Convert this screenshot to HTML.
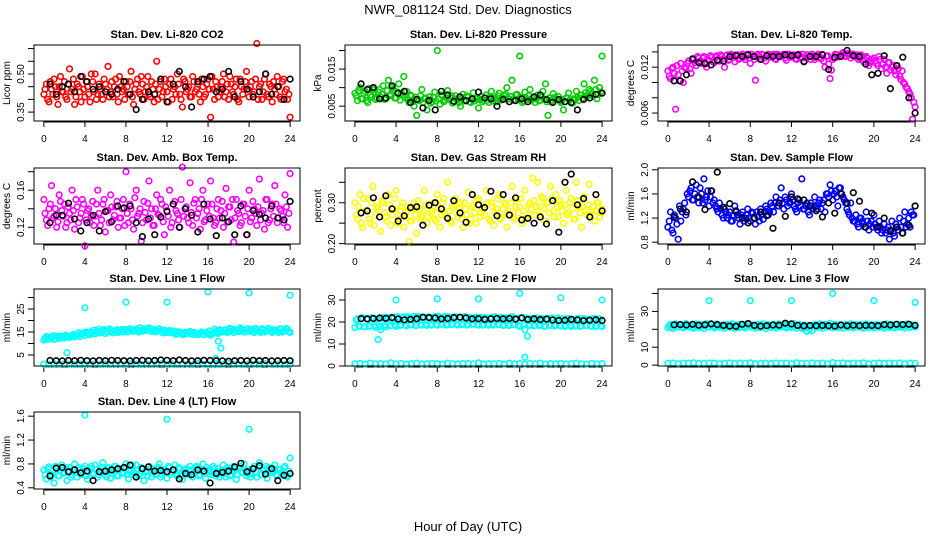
<!DOCTYPE html>
<html><head><meta charset="utf-8"><style>
html,body{margin:0;padding:0;background:#fff;}
svg{display:block;font-family:"Liberation Sans",Arial,sans-serif;}
</style></head><body>
<svg id="chart" width="936" height="540" viewBox="0 0 936 540" xmlns="http://www.w3.org/2000/svg">
<rect x="0" y="0" width="936" height="540" fill="#fff"/>
<text x="468" y="14" font-size="13" text-anchor="middle">NWR_081124  Std. Dev. Diagnostics</text>
<text x="468" y="531" font-size="13" text-anchor="middle">Hour of Day (UTC)</text>
</svg>
<script>
const hoursQ = [0,0.25,0.5,0.75,1,1.25,1.5,1.75,2,2.25,2.5,2.75,3,3.25,3.5,3.75,4,4.25,4.5,4.75,5,5.25,5.5,5.75,6,6.25,6.5,6.75,7,7.25,7.5,7.75,8,8.25,8.5,8.75,9,9.25,9.5,9.75,10,10.25,10.5,10.75,11,11.25,11.5,11.75,12,12.25,12.5,12.75,13,13.25,13.5,13.75,14,14.25,14.5,14.75,15,15.25,15.5,15.75,16,16.25,16.5,16.75,17,17.25,17.5,17.75,18,18.25,18.5,18.75,19,19.25,19.5,19.75,20,20.25,20.5,20.75,21,21.25,21.5,21.75,22,22.25,22.5,22.75,23,23.25,23.5,23.75,24];
const hoursQb = [0.125,0.375,0.625,0.875,1.125,1.375,1.625,1.875,2.125,2.375,2.625,2.875,3.125,3.375,3.625,3.875,4.125,4.375,4.625,4.875,5.125,5.375,5.625,5.875,6.125,6.375,6.625,6.875,7.125,7.375,7.625,7.875,8.125,8.375,8.625,8.875,9.125,9.375,9.625,9.875,10.125,10.375,10.625,10.875,11.125,11.375,11.625,11.875,12.125,12.375,12.625,12.875,13.125,13.375,13.625,13.875,14.125,14.375,14.625,14.875,15.125,15.375,15.625,15.875,16.125,16.375,16.625,16.875,17.125,17.375,17.625,17.875,18.125,18.375,18.625,18.875,19.125,19.375,19.625,19.875,20.125,20.375,20.625,20.875,21.125,21.375,21.625,21.875,22.125,22.375,22.625,22.875,23.125,23.375,23.625,23.875];
const hoursHalf = [0,0.5,1,1.5,2,2.5,3,3.5,4,4.5,5,5.5,6,6.5,7,7.5,8,8.5,9,9.5,10,10.5,11,11.5,12,12.5,13,13.5,14,14.5,15,15.5,16,16.5,17,17.5,18,18.5,19,19.5,20,20.5,21,21.5,22,22.5,23,23.5,24];
const hoursBlack = [0.6,1.2,1.8,2.4,3,3.6,4.2,4.8,5.4,6,6.6,7.2,7.8,8.4,9,9.6,10.2,10.8,11.4,12,12.6,13.2,13.8,14.4,15,15.6,16.2,16.8,17.4,18,18.6,19.2,19.8,20.4,21,21.6,22.2,22.8,23.4,24];
const xTicks = [0,4,8,12,16,20,24];

const co2Vals = [0.42,0.46,0.39,0.44,0.48,0.41,0.45,0.43,0.47,0.40,0.52,0.44,0.38,0.46,0.43,0.49,0.41,0.45,0.39,0.47,0.50,0.42,0.44,0.40,0.46,0.53,0.43,0.41,0.48,0.39,0.45,0.44,0.47,0.42,0.51,0.38,0.46,0.43,0.49,0.40,0.45,0.42,0.47,0.39,0.55,0.44,0.41,0.48,0.43,0.46,0.40,0.45,0.50,0.42,0.37,0.47,0.44,0.41,0.49,0.43,0.46,0.39,0.45,0.42,0.48,0.33,0.44,0.47,0.41,0.45,0.50,0.43,0.40,0.46,0.42,0.48,0.39,0.45,0.44,0.51,0.41,0.47,0.43,0.62,0.45,0.40,0.48,0.42,0.46,0.39,0.44,0.49,0.41,0.47,0.43,0.40,0.33];
const co2ValsB = [0.44,0.40,0.47,0.42,0.45,0.38,0.49,0.43,0.41,0.46,0.43,0.48,0.41,0.45,0.39,0.44,0.47,0.42,0.50,0.43,0.40,0.46,0.42,0.48,0.44,0.41,0.47,0.45,0.42,0.49,0.43,0.40,0.45,0.47,0.41,0.44,0.48,0.42,0.46,0.43,0.49,0.41,0.44,0.46,0.40,0.47,0.43,0.45,0.39,0.48,0.44,0.42,0.46,0.40,0.48,0.43,0.45,0.41,0.47,0.44,0.42,0.48,0.41,0.46,0.44,0.49,0.40,0.45,0.43,0.47,0.41,0.46,0.49,0.43,0.45,0.40,0.48,0.42,0.47,0.44,0.45,0.42,0.48,0.40,0.46,0.43,0.50,0.41,0.45,0.47,0.42,0.45,0.40,0.48,0.44,0.42];
const co2Black = [0.46,0.42,0.45,0.46,0.43,0.49,0.47,0.44,0.45,0.43,0.42,0.44,0.47,0.42,0.36,0.40,0.43,0.42,0.48,0.39,0.46,0.51,0.45,0.37,0.47,0.48,0.49,0.43,0.44,0.51,0.41,0.47,0.44,0.41,0.43,0.50,0.42,0.45,0.40,0.48];

const presVals = [0.0085,0.0065,0.0100,0.0070,0.0090,0.0060,0.0080,0.0095,0.0068,0.0088,0.0075,0.0105,0.0070,0.0120,0.0082,0.0095,0.0072,0.0110,0.0085,0.0130,0.0090,0.0060,0.0078,0.0050,0.0025,0.0065,0.0095,0.0070,0.0040,0.0075,0.0062,0.0088,0.0200,0.0055,0.0080,0.0066,0.0092,0.0072,0.0058,0.0078,0.0068,0.0050,0.0082,0.0064,0.0074,0.0060,0.0086,0.0070,0.0045,0.0076,0.0066,0.0080,0.0060,0.0090,0.0072,0.0062,0.0085,0.0068,0.0078,0.0100,0.0070,0.0120,0.0065,0.0082,0.0185,0.0060,0.0088,0.0068,0.0095,0.0072,0.0060,0.0080,0.0066,0.0090,0.0110,0.0025,0.0062,0.0084,0.0068,0.0076,0.0060,0.0040,0.0072,0.0085,0.0060,0.0070,0.0090,0.0065,0.0080,0.0110,0.0075,0.0095,0.0085,0.0120,0.0070,0.0100,0.0185];
const presValsB = [0.0078,0.0092,0.0070,0.0085,0.0065,0.0098,0.0075,0.0088,0.0072,0.0095,0.0082,0.0068,0.0092,0.0078,0.0100,0.0072,0.0088,0.0066,0.0080,0.0074,0.0068,0.0080,0.0062,0.0074,0.0068,0.0078,0.0060,0.0072,0.0066,0.0058,0.0074,0.0064,0.0070,0.0080,0.0062,0.0072,0.0068,0.0078,0.0064,0.0070,0.0060,0.0072,0.0066,0.0078,0.0062,0.0070,0.0064,0.0074,0.0068,0.0062,0.0072,0.0066,0.0076,0.0064,0.0070,0.0078,0.0066,0.0072,0.0082,0.0070,0.0076,0.0066,0.0080,0.0070,0.0074,0.0064,0.0072,0.0078,0.0066,0.0074,0.0070,0.0064,0.0076,0.0068,0.0062,0.0072,0.0066,0.0074,0.0070,0.0064,0.0068,0.0062,0.0072,0.0066,0.0058,0.0068,0.0074,0.0080,0.0072,0.0086,0.0082,0.0090,0.0078,0.0095,0.0082,0.0088];
const presBlack = [0.0110,0.0095,0.0100,0.0070,0.0072,0.0105,0.0085,0.0090,0.0060,0.0068,0.0045,0.0065,0.0040,0.0090,0.0080,0.0063,0.0075,0.0065,0.0070,0.0088,0.0072,0.0070,0.0050,0.0068,0.0062,0.0065,0.0070,0.0062,0.0075,0.0080,0.0068,0.0060,0.0068,0.0062,0.0060,0.0040,0.0068,0.0072,0.0082,0.0085];

const tempVals = [0.0115,0.0105,0.0120,0.0065,0.0110,0.0125,0.0100,0.0118,0.0128,0.0112,0.0130,0.0122,0.0132,0.0125,0.0134,0.0120,0.0128,0.0133,0.0126,0.0135,0.0128,0.0134,0.0120,0.0136,0.0130,0.0135,0.0127,0.0136,0.0132,0.0137,0.0130,0.0137,0.0125,0.0134,0.0103,0.0137,0.0131,0.0136,0.0128,0.0137,0.0133,0.0137,0.0130,0.0136,0.0134,0.0137,0.0129,0.0137,0.0133,0.0136,0.0130,0.0137,0.0133,0.0128,0.0136,0.0134,0.0137,0.0130,0.0136,0.0133,0.0137,0.0120,0.0135,0.0105,0.0130,0.0137,0.0133,0.0136,0.0139,0.0134,0.0138,0.0132,0.0137,0.0135,0.0130,0.0136,0.0127,0.0134,0.0122,0.0128,0.0132,0.0125,0.0134,0.0118,0.0130,0.0112,0.0126,0.0120,0.0115,0.0122,0.0108,0.0115,0.0098,0.0092,0.0085,0.0052,0.0068];
const tempValsB = [0.0108,0.0118,0.0112,0.0122,0.0102,0.0115,0.0120,0.0125,0.0118,0.0130,0.0126,0.0134,0.0128,0.0132,0.0124,0.0130,0.0135,0.0127,0.0133,0.0130,0.0136,0.0131,0.0135,0.0129,0.0137,0.0133,0.0136,0.0130,0.0135,0.0133,0.0136,0.0132,0.0137,0.0130,0.0136,0.0134,0.0137,0.0132,0.0135,0.0133,0.0136,0.0131,0.0137,0.0134,0.0136,0.0132,0.0137,0.0134,0.0136,0.0131,0.0135,0.0133,0.0137,0.0132,0.0136,0.0130,0.0135,0.0133,0.0137,0.0131,0.0128,0.0134,0.0124,0.0116,0.0132,0.0136,0.0134,0.0137,0.0135,0.0138,0.0136,0.0137,0.0134,0.0136,0.0132,0.0134,0.0130,0.0132,0.0126,0.0130,0.0128,0.0122,0.0130,0.0124,0.0120,0.0126,0.0116,0.0122,0.0110,0.0118,0.0104,0.0100,0.0094,0.0088,0.0080,0.0074];
const tempBlack = [0.0102,0.0102,0.0110,0.0131,0.0126,0.0125,0.0123,0.0129,0.0128,0.0134,0.0135,0.0134,0.0136,0.0134,0.0130,0.0135,0.0134,0.0134,0.0136,0.0135,0.0136,0.0127,0.0134,0.0134,0.0136,0.0117,0.0133,0.0134,0.0142,0.0135,0.0134,0.0124,0.0110,0.0112,0.0135,0.0092,0.0122,0.0133,0.0080,0.0060];

const ambVals = [0.150,0.128,0.140,0.165,0.132,0.120,0.155,0.138,0.145,0.125,0.135,0.160,0.118,0.142,0.130,0.150,0.100,0.138,0.125,0.148,0.132,0.160,0.122,0.145,0.115,0.138,0.155,0.128,0.142,0.120,0.130,0.150,0.180,0.125,0.140,0.118,0.160,0.135,0.105,0.148,0.128,0.170,0.140,0.122,0.155,0.133,0.145,0.112,0.138,0.160,0.125,0.148,0.135,0.120,0.185,0.140,0.130,0.168,0.122,0.150,0.135,0.118,0.160,0.128,0.145,0.170,0.130,0.125,0.150,0.138,0.120,0.162,0.142,0.128,0.104,0.150,0.135,0.125,0.145,0.112,0.160,0.130,0.140,0.122,0.172,0.135,0.118,0.150,0.128,0.145,0.165,0.125,0.140,0.132,0.155,0.120,0.178];
const ambValsB = [0.135,0.122,0.145,0.130,0.140,0.126,0.148,0.132,0.120,0.142,0.128,0.138,0.150,0.125,0.135,0.145,0.128,0.140,0.132,0.122,0.145,0.135,0.128,0.150,0.138,0.125,0.142,0.133,0.148,0.130,0.140,0.122,0.135,0.145,0.128,0.152,0.132,0.140,0.125,0.136,0.146,0.130,0.122,0.140,0.134,0.150,0.126,0.142,0.132,0.120,0.145,0.138,0.128,0.150,0.132,0.142,0.125,0.136,0.146,0.130,0.140,0.150,0.126,0.138,0.132,0.145,0.122,0.140,0.130,0.148,0.135,0.126,0.142,0.150,0.130,0.138,0.122,0.145,0.132,0.140,0.126,0.148,0.135,0.142,0.128,0.138,0.150,0.125,0.140,0.132,0.145,0.130,0.138,0.125,0.142,0.135];
const ambBlack = [0.125,0.133,0.133,0.146,0.129,0.116,0.125,0.133,0.116,0.137,0.126,0.143,0.141,0.143,0.125,0.110,0.129,0.112,0.131,0.137,0.145,0.120,0.140,0.133,0.115,0.145,0.129,0.111,0.130,0.126,0.112,0.143,0.112,0.138,0.134,0.130,0.143,0.130,0.128,0.148];

const rhVals = [0.300,0.260,0.320,0.240,0.280,0.310,0.250,0.340,0.270,0.290,0.230,0.300,0.265,0.320,0.245,0.285,0.330,0.260,0.290,0.240,0.275,0.205,0.255,0.300,0.225,0.285,0.265,0.330,0.250,0.295,0.280,0.260,0.320,0.240,0.300,0.275,0.350,0.255,0.290,0.310,0.265,0.300,0.240,0.285,0.325,0.260,0.295,0.250,0.310,0.275,0.290,0.330,0.260,0.300,0.245,0.285,0.320,0.265,0.300,0.240,0.280,0.340,0.260,0.310,0.290,0.250,0.330,0.270,0.300,0.360,0.270,0.350,0.290,0.310,0.255,0.300,0.340,0.280,0.320,0.265,0.295,0.250,0.330,0.275,0.310,0.260,0.350,0.290,0.240,0.315,0.270,0.345,0.280,0.255,0.300,0.265,0.285];
const rhValsB = [0.270,0.290,0.250,0.310,0.280,0.260,0.300,0.245,0.285,0.265,0.305,0.275,0.255,0.295,0.270,0.310,0.250,0.280,0.300,0.265,0.290,0.255,0.285,0.270,0.305,0.260,0.280,0.295,0.265,0.275,0.300,0.255,0.285,0.270,0.310,0.265,0.280,0.250,0.295,0.275,0.285,0.260,0.300,0.270,0.250,0.290,0.275,0.305,0.265,0.285,0.270,0.300,0.255,0.290,0.275,0.310,0.260,0.285,0.295,0.270,0.300,0.265,0.290,0.275,0.310,0.280,0.260,0.295,0.285,0.305,0.290,0.270,0.315,0.285,0.300,0.275,0.310,0.265,0.290,0.305,0.280,0.295,0.270,0.300,0.285,0.260,0.305,0.275,0.290,0.280,0.295,0.270,0.290,0.280,0.300,0.275];
const rhBlack = [0.275,0.280,0.312,0.265,0.317,0.285,0.255,0.268,0.288,0.290,0.245,0.294,0.300,0.285,0.262,0.305,0.275,0.252,0.320,0.295,0.288,0.328,0.268,0.320,0.270,0.312,0.258,0.262,0.250,0.265,0.248,0.305,0.228,0.350,0.370,0.295,0.310,0.265,0.320,0.280];

const flowVals = [1.05,1.30,0.95,1.20,0.85,1.15,1.35,1.25,1.55,1.70,1.50,1.75,1.45,1.60,1.85,1.55,1.40,1.65,1.50,1.35,1.45,1.25,1.35,1.20,1.30,1.15,1.40,1.25,1.10,1.30,1.20,1.35,1.15,1.28,1.10,1.22,1.35,1.18,1.40,1.25,1.45,1.30,1.55,1.40,1.70,1.35,1.50,1.45,1.60,1.40,1.30,1.50,1.85,1.35,1.45,1.25,1.40,1.55,1.35,1.50,1.45,1.30,1.60,1.75,1.50,1.65,1.40,1.70,1.55,1.45,1.30,1.45,1.15,1.25,1.05,1.20,1.10,1.30,1.00,1.15,1.25,1.05,1.15,0.95,1.10,1.00,0.85,1.15,0.90,1.05,1.20,0.95,1.30,1.10,1.05,1.25,1.40];
const flowValsB = [1.15,1.00,1.25,1.10,1.40,1.30,1.45,1.60,1.65,1.50,1.60,1.55,1.70,1.45,1.50,1.65,1.55,1.45,1.40,1.30,1.35,1.20,1.30,1.25,1.15,1.25,1.30,1.20,1.25,1.15,1.25,1.20,1.30,1.20,1.30,1.15,1.25,1.30,1.35,1.30,1.40,1.45,1.40,1.50,1.45,1.55,1.40,1.45,1.50,1.35,1.45,1.40,1.35,1.40,1.30,1.45,1.35,1.40,1.45,1.35,1.50,1.60,1.55,1.65,1.60,1.55,1.70,1.60,1.50,1.35,1.25,1.20,1.15,1.10,1.20,1.15,1.05,1.15,1.10,1.05,1.10,1.00,1.05,1.00,0.95,1.05,1.00,0.95,1.10,1.00,1.05,1.15,1.05,1.20,1.30,1.25];
const flowBlack = [1.22,1.35,1.30,1.80,1.55,1.34,1.65,1.96,1.38,1.44,1.32,1.20,1.12,1.20,1.30,1.24,1.03,1.45,1.23,1.55,1.52,1.50,1.40,1.32,1.22,1.45,1.28,1.60,1.45,1.62,1.48,1.05,1.28,1.05,1.20,0.98,1.05,0.95,1.08,1.40];

const line1Vals = [11.5,13.0,12.0,12.5,11.8,13.2,12.2,12.8,12.4,13.0,12.6,13.4,12.8,13.6,13.0,14.2,13.4,14.4,13.8,14.8,14.2,15.2,14.6,15.6,14.4,15.0,15.8,14.6,15.4,14.8,15.6,15.0,16.0,15.2,15.8,15.4,16.2,15.0,15.8,16.4,15.6,16.8,15.2,16.0,15.4,16.4,15.0,15.8,14.8,15.6,14.6,15.4,14.2,15.0,14.0,14.8,14.4,15.2,14.0,14.6,13.8,14.6,14.0,14.8,14.2,13.6,14.6,15.2,14.4,15.6,15.0,16.0,15.4,16.4,14.8,15.8,15.2,16.2,15.0,16.0,15.4,16.2,14.8,15.8,15.2,16.4,15.0,15.6,16.0,14.8,15.8,15.2,16.4,15.0,15.6,16.2,14.8];
const line1ValsB = [12.2,11.8,12.6,13.4,12.0,12.8,13.2,12.6,13.6,12.8,13.2,14.0,13.6,14.6,14.0,14.6,15.0,14.4,15.2,15.8,15.0,16.2,15.4,16.0,15.2,16.4,15.6,15.4,16.0,15.2,16.2,15.6,15.0,16.4,15.4,16.0,15.6,16.8,15.4,16.2,15.8,16.4,15.6,15.0,16.2,15.4,14.6,15.4,14.8,15.6,14.6,14.0,15.0,14.4,13.8,14.6,15.0,14.2,14.8,14.0,14.4,15.0,13.8,14.6,15.4,14.0,16.2,14.8,16.0,15.2,15.8,14.8,16.6,15.6,16.0,15.4,16.8,15.8,15.0,16.4,15.4,15.0,16.6,15.6,14.8,16.0,15.4,16.6,15.2,16.0,15.4,14.8,16.2,15.6,16.6,15.2];
const line1Low = [1.0,0.8,1.1,0.9,1.2,1.0,0.8,1.1,0.9,1.0,1.2,0.9,1.0,0.8,1.1,1.0,0.9,1.2,1.0,0.8,1.1,0.9,1.0,1.2,0.9,1.0,0.8,1.1,1.0,0.9,1.2,1.0,0.8,1.1,0.9,1.0,1.2,0.9,1.0,0.8,1.1,1.0,0.9,1.2,1.0,0.8,1.1,0.9,1.0];
const line1OutHours = [2.25,4,8,12,16,16.75,17,17.25,20,24];
const line1OutVals = [6,25.5,28,28,32.5,3.5,11,8,32,31];
const line1Black = [2.6,2.5,2.4,2.6,2.5,2.7,2.5,2.4,2.6,2.5,2.7,2.6,2.5,2.4,2.6,2.7,2.5,2.6,2.8,2.7,2.5,2.8,2.6,2.4,2.5,2.7,2.6,2.5,2.4,2.3,2.5,2.6,2.4,2.7,2.5,2.6,2.4,2.5,2.6,2.5];

const line2Vals = [17.5,21.5,18.0,22.0,17.8,21.2,18.2,21.8,17.6,21.4,18.0,22.0,17.8,21.6,18.4,22.2,18.0,21.8,18.6,22.4,18.2,21.8,18.8,22.6,18.4,22.0,18.6,22.2,18.4,21.8,18.8,22.4,18.6,22.0,19.0,22.6,18.8,22.2,19.0,22.4,18.6,22.0,19.0,22.4,18.8,21.8,19.0,22.2,18.6,22.0,18.8,21.8,18.6,22.2,19.0,21.6,18.8,22.0,18.6,21.8,18.4,22.4,18.8,21.6,18.0,22.0,16.5,20.8,18.6,21.6,18.4,21.8,18.6,21.4,18.2,21.6,18.4,21.2,18.6,21.8,18.2,21.4,18.4,21.6,18.0,21.2,18.4,21.6,18.2,21.4,18.4,21.2,18.0,21.6,18.2,21.4,18.0];
const line2ValsB = [21.0,18.2,21.8,17.8,21.6,18.0,22.0,18.4,21.2,17.8,21.8,18.6,22.2,18.2,21.6,18.8,22.4,18.4,22.0,18.6,22.4,18.8,21.8,18.4,22.6,18.8,22.0,19.0,22.4,18.6,22.2,18.8,22.6,19.0,22.0,18.6,22.4,18.8,22.0,19.0,22.2,18.8,22.4,18.6,22.0,19.0,21.8,18.8,22.2,18.6,22.0,19.0,21.8,18.6,22.4,18.8,22.0,18.4,21.8,18.6,22.2,18.8,21.6,18.4,22.0,18.6,21.8,18.4,21.6,18.2,21.8,18.4,21.6,18.0,21.4,18.4,21.8,18.2,21.6,18.4,21.4,18.0,21.6,18.4,21.2,18.2,21.6,18.0,21.4,18.4,21.2,18.2,21.6,18.0,21.4,18.2];
const line2Low = [1.0,1.2,0.8,1.3,1.0,1.1,0.9,1.4,1.0,1.2,0.8,1.1,1.3,0.9,1.0,1.2,1.1,0.8,1.3,1.0,0.9,1.2,1.1,1.0,1.4,0.9,1.1,1.0,1.2,0.8,1.3,1.0,1.1,0.9,1.2,1.0,1.3,0.8,1.1,1.0,1.2,0.9,1.1,1.3,1.0,0.8,1.2,1.0,1.1];
const line2OutHours = [2.25,2.5,4,8,12,16,16.5,16.75,20,24];
const line2OutVals = [12,16.5,30,30.5,30.5,33,4,13.5,31,30];
const line2Black = [21.5,21.4,21.6,21.8,21.7,22.0,21.3,21.0,21.2,21.5,22.2,22.0,21.8,21.4,21.6,22.0,22.2,21.8,21.4,21.5,21.2,21.4,21.6,21.4,21.6,21.3,21.8,21.2,21.4,21.1,21.3,20.9,20.7,20.8,21.2,20.9,20.6,20.8,21.0,20.7];

const line3Vals = [21.0,22.8,20.4,23.0,21.2,22.6,20.8,23.2,21.4,22.4,20.6,23.0,21.0,22.8,20.4,23.2,21.2,22.6,20.8,23.0,21.0,22.4,20.6,22.8,21.2,23.0,20.4,22.6,21.0,22.8,20.8,23.2,21.2,22.4,20.6,22.8,21.0,23.0,20.4,22.6,21.0,22.8,20.6,23.0,21.2,22.4,20.8,22.6,21.0,23.2,20.6,22.8,21.0,22.4,18.8,20.0,19.2,22.8,21.0,23.0,20.6,22.6,21.2,23.4,20.8,22.8,21.0,22.4,20.6,22.8,21.0,23.0,20.8,22.6,21.2,22.8,20.6,23.0,21.0,22.6,20.8,22.8,21.2,22.4,20.6,23.0,21.0,22.6,20.8,22.8,21.2,22.6,20.6,23.0,21.0,22.4,21.2];
const line3ValsB = [22.0,21.4,22.2,21.6,22.4,21.2,22.0,21.8,22.2,21.4,22.4,21.6,22.0,21.8,22.2,21.4,22.6,21.6,22.0,21.8,22.2,21.4,22.4,21.6,22.0,21.8,22.2,21.4,22.6,21.6,22.0,21.8,22.2,21.4,22.4,21.6,22.0,21.8,22.2,21.4,22.4,21.6,22.0,21.8,22.2,21.4,22.6,21.6,22.0,21.8,22.2,21.0,20.4,21.6,22.0,21.8,22.2,21.4,22.6,21.6,22.0,21.8,22.2,21.4,22.4,21.6,22.0,21.8,22.2,21.4,22.4,21.6,22.0,21.8,22.2,21.4,22.6,21.6,22.0,21.8,22.2,21.4,22.4,21.6,22.0,21.8,22.2,21.4,22.6,21.6,22.0,21.8,22.2,21.4,22.4,21.6];
const line3Low = [1.0,1.2,0.8,1.1,1.0,1.3,0.9,1.0,1.2,1.1,0.8,1.0,1.2,0.9,1.1,1.0,1.3,0.8,1.0,1.1,0.9,1.2,1.0,1.1,0.8,1.3,1.0,0.9,1.2,1.0,1.1,0.8,1.4,1.0,1.2,0.9,1.1,1.0,1.3,0.8,1.0,1.2,0.9,1.1,1.0,1.2,0.8,1.1,1.0];
const line3OutHours = [4,8,12,16,20,24];
const line3OutVals = [36,36,36,40,36,35];
const line3Black = [22.5,22.6,22.4,22.8,22.3,22.5,23.0,22.6,22.2,21.8,21.6,22.8,23.2,22.2,21.8,22.0,22.4,22.3,23.4,23.0,22.2,21.9,22.1,22.0,22.2,22.0,21.8,22.4,22.0,22.3,22.0,22.2,22.1,22.0,22.6,22.4,22.8,22.6,22.8,22.2];

const line4Vals = [0.70,0.55,0.75,0.62,0.48,0.72,0.60,0.78,0.66,0.52,0.74,0.62,0.80,0.58,0.70,0.66,0.76,0.54,0.72,0.64,0.78,0.58,0.70,0.82,0.62,0.74,0.56,0.68,0.76,0.60,0.72,0.64,0.80,0.55,0.70,0.66,0.78,0.60,0.74,0.52,0.68,0.76,0.58,0.72,0.64,0.80,0.62,0.70,0.56,0.74,0.66,0.78,0.60,0.72,0.54,0.70,0.64,0.76,0.58,0.68,0.74,0.62,0.80,0.56,0.70,0.66,0.76,0.60,0.72,0.64,0.78,0.58,0.70,0.62,0.76,0.54,0.72,0.66,0.80,0.60,0.70,0.64,0.76,0.58,0.82,0.62,0.72,0.56,0.74,0.66,0.78,0.60,0.70,0.64,0.76,0.58,0.90];
const line4ValsB = [0.62,0.72,0.58,0.68,0.76,0.60,0.70,0.64,0.74,0.66,0.58,0.70,0.66,0.74,0.62,0.72,0.60,0.68,0.76,0.64,0.70,0.62,0.74,0.66,0.58,0.72,0.64,0.76,0.60,0.70,0.66,0.74,0.62,0.68,0.78,0.60,0.70,0.64,0.72,0.66,0.60,0.72,0.68,0.62,0.74,0.58,0.70,0.66,0.76,0.62,0.70,0.64,0.74,0.60,0.68,0.72,0.62,0.70,0.66,0.76,0.60,0.70,0.64,0.74,0.68,0.62,0.72,0.66,0.58,0.70,0.64,0.74,0.60,0.68,0.72,0.62,0.76,0.66,0.70,0.64,0.58,0.72,0.66,0.74,0.62,0.70,0.76,0.64,0.68,0.72,0.62,0.70,0.66,0.74,0.60,0.68];
const line4OutHours = [4,12,20];
const line4OutVals = [1.62,1.55,1.38];
const line4Black = [0.60,0.73,0.74,0.67,0.70,0.65,0.68,0.52,0.67,0.68,0.70,0.72,0.74,0.78,0.58,0.72,0.75,0.68,0.69,0.67,0.70,0.55,0.64,0.62,0.70,0.68,0.48,0.64,0.66,0.68,0.75,0.81,0.67,0.72,0.77,0.63,0.72,0.52,0.61,0.64];

const yTicksCO2 = [0.35,0.40,0.45,0.50,0.55,0.60];
const yLabelsCO2 = ["0.35","","","0.50","",""];
const yTicksPres = [0.005,0.010,0.015,0.020];
const yLabelsPres = ["0.005","","0.015",""];
const yTicksTemp = [0.006,0.008,0.010,0.012,0.014];
const yLabelsTemp = ["0.006","","","0.012",""];
const yTicksAmb = [0.12,0.14,0.16,0.18];
const yLabelsAmb = ["0.12","","0.16",""];
const yTicksRH = [0.20,0.25,0.30,0.35];
const yLabelsRH = ["0.20","","0.30",""];
const yTicksFlow = [0.8,1.2,1.6,2.0];
const yLabelsFlow = ["0.8","1.2","1.6","2.0"];
const yTicksL1 = [5,10,15,20,25,30];
const yLabelsL1 = ["5","","15","","25",""];
const yTicksL2 = [0,10,20,30];
const yLabelsL2 = ["0","10","20","30"];
const yTicksL3 = [0,10,20,30,40];
const yLabelsL3 = ["0","10","","30",""];
const yTicksL4 = [0.4,0.8,1.2,1.6];
const yLabelsL4 = ["0.4","0.8","1.2","1.6"];

const svg = document.getElementById('chart');
const NS = 'http://www.w3.org/2000/svg';
function mk(tag, attrs, parent){
  const e = document.createElementNS(NS, tag);
  for (const k in attrs) e.setAttribute(k, attrs[k]);
  (parent||svg).appendChild(e);
  return e;
}
const cols = [[34,300],[345,612],[658,925]];
const rows = [[45,121],[168,244],[289,366],[412,489]];

function panel(o){
  const [L,R] = cols[o.c], [T,B] = rows[o.r];
  const g = mk('g', {});
  
  
  const span = R - L, pad = span*0.96/25.92;
  const xs = h => L + pad + h/24*(span - 2*pad);
  const ys = v => B - (v - o.lo)/(o.hi - o.lo)*(B - T);
  const t = mk('text', {x:(L+R)/2, y:T-7, 'font-size':11, 'font-weight':'bold', 'text-anchor':'middle'}, g);
  t.textContent = o.title;
  
  
  const yl = mk('text', {x:0, y:0, 'font-size':10, 'text-anchor':'middle', transform:`translate(${L-24},${(T+B)/2}) rotate(-90)`}, g);
  yl.textContent = o.ylab;
  
  
  const xa = mk('g', {}, g);
  
  
  mk('line', {x1:xs(0), x2:xs(24), y1:B+1, y2:B+1, stroke:'#000', 'stroke-width':1}, xa);
  xTicks.forEach(v=>{
    mk('line', {x1:xs(v), x2:xs(v), y1:B, y2:B+6, stroke:'#000', 'stroke-width':1}, xa);
    const tl = mk('text', {x:xs(v), y:B+21, 'font-size':10, 'text-anchor':'middle'}, xa);
    tl.textContent = v;
    
    
  });
  const ya = mk('g', {}, g);
  
  
  o.yt.forEach((v,i)=>{
    mk('line', {x1:L-6, x2:L, y1:ys(v), y2:ys(v), stroke:'#000', 'stroke-width':1}, ya);
    if (o.ylbl[i]){
      const tl = mk('text', {x:0, y:0, 'font-size':10, 'text-anchor':'middle', transform:`translate(${L-10},${ys(v)}) rotate(-90)`}, ya);
      tl.textContent = o.ylbl[i];
      
      
    }
  });
  mk('line', {x1:L, x2:L, y1:ys(o.yt[0]), y2:ys(o.yt[o.yt.length-1]), stroke:'#000'}, ya);
  const pts = mk('g', {fill:'none', 'stroke-width':1.6}, g);
  
  
  o.series.forEach(s=>{
    s.v.forEach((v,i)=>{
      const c = mk('circle', {cx:xs(s.h[i]).toFixed(1), cy:ys(v).toFixed(1), r:2.8, stroke:s.col}, pts);
      
      
    });
  });
  const box = mk('rect', {x:L, y:T, width:R-L, height:B-T, fill:'none', stroke:'#000', 'stroke-width':1}, g);
  
  
}
const K = '#000', CY = '#00ffff';
panel({name:'co2', c:0, r:0, title:'Stan. Dev. Li-820 CO2', ylab:'Licor ppm', lo:0.315, hi:0.614, yt:yTicksCO2, ylbl:yLabelsCO2,
  series:[{h:hoursQ, v:co2Vals, col:'#ff0000', name:'co2-point'},{h:hoursQb, v:co2ValsB, col:'#ff0000', name:'co2-point'},{h:hoursBlack, v:co2Black, col:K, name:'co2-mean-point'}]});
panel({name:'pressure', c:1, r:0, title:'Stan. Dev. Li-820 Pressure', ylab:'kPa', lo:0.001, hi:0.0215, yt:yTicksPres, ylbl:yLabelsPres,
  series:[{h:hoursQ, v:presVals, col:'#00cd00', name:'pressure-point'},{h:hoursQb, v:presValsB, col:'#00cd00', name:'pressure-point'},{h:hoursBlack, v:presBlack, col:K, name:'pressure-mean-point'}]});
panel({name:'temp', c:2, r:0, title:'Stan. Dev. Li-820 Temp.', ylab:'degrees C', lo:0.00496, hi:0.0149, yt:yTicksTemp, ylbl:yLabelsTemp,
  series:[{h:hoursQ, v:tempVals, col:'#ff00ff', name:'temp-point'},{h:hoursQb, v:tempValsB, col:'#ff00ff', name:'temp-point'},{h:hoursBlack, v:tempBlack, col:K, name:'temp-mean-point'}]});
panel({name:'amb-box', c:0, r:1, title:'Stan. Dev. Amb. Box Temp.', ylab:'degrees C', lo:0.102, hi:0.184, yt:yTicksAmb, ylbl:yLabelsAmb,
  series:[{h:hoursQ, v:ambVals, col:'#ff00ff', name:'amb-point'},{h:hoursQb, v:ambValsB, col:'#ff00ff', name:'amb-point'},{h:hoursBlack, v:ambBlack, col:K, name:'amb-mean-point'}]});
panel({name:'gas-rh', c:1, r:1, title:'Stan. Dev. Gas Stream RH', ylab:'percent', lo:0.199, hi:0.385, yt:yTicksRH, ylbl:yLabelsRH,
  series:[{h:hoursQ, v:rhVals, col:'#ffff00', name:'rh-point'},{h:hoursQb, v:rhValsB, col:'#ffff00', name:'rh-point'},{h:hoursBlack, v:rhBlack, col:K, name:'rh-mean-point'}]});
panel({name:'sample-flow', c:2, r:1, title:'Stan. Dev. Sample Flow', ylab:'ml/min', lo:0.77, hi:2.03, yt:yTicksFlow, ylbl:yLabelsFlow,
  series:[{h:hoursQ, v:flowVals, col:'#0000ff', name:'flow-point'},{h:hoursQb, v:flowValsB, col:'#0000ff', name:'flow-point'},{h:hoursBlack, v:flowBlack, col:K, name:'flow-mean-point'}]});
panel({name:'line1', c:0, r:2, title:'Stan. Dev. Line 1 Flow', ylab:'ml/min', lo:0.2, hi:33.7, yt:yTicksL1, ylbl:yLabelsL1,
  series:[{h:hoursQ, v:line1Vals, col:CY, name:'line1-point'},{h:hoursQb, v:line1ValsB, col:CY, name:'line1-point'},{h:hoursHalf, v:line1Low, col:CY, name:'line1-low-point'},{h:line1OutHours, v:line1OutVals, col:CY, name:'line1-outlier'},{h:hoursBlack, v:line1Black, col:K, name:'line1-mean-point'}]});
panel({name:'line2', c:1, r:2, title:'Stan. Dev. Line 2 Flow', ylab:'ml/min', lo:0, hi:35, yt:yTicksL2, ylbl:yLabelsL2,
  series:[{h:hoursQ, v:line2Vals, col:CY, name:'line2-point'},{h:hoursQb, v:line2ValsB, col:CY, name:'line2-point'},{h:hoursHalf, v:line2Low, col:CY, name:'line2-low-point'},{h:line2OutHours, v:line2OutVals, col:CY, name:'line2-outlier'},{h:hoursBlack, v:line2Black, col:K, name:'line2-mean-point'}]});
panel({name:'line3', c:2, r:2, title:'Stan. Dev. Line 3 Flow', ylab:'ml/min', lo:-0.5, hi:42.5, yt:yTicksL3, ylbl:yLabelsL3,
  series:[{h:hoursQ, v:line3Vals, col:CY, name:'line3-point'},{h:hoursQb, v:line3ValsB, col:CY, name:'line3-point'},{h:hoursHalf, v:line3Low, col:CY, name:'line3-low-point'},{h:line3OutHours, v:line3OutVals, col:CY, name:'line3-outlier'},{h:hoursBlack, v:line3Black, col:K, name:'line3-mean-point'}]});
panel({name:'line4', c:0, r:3, title:'Stan. Dev. Line 4 (LT) Flow', ylab:'ml/min', lo:0.38, hi:1.67, yt:yTicksL4, ylbl:yLabelsL4,
  series:[{h:hoursQ, v:line4Vals, col:CY, name:'line4-point'},{h:hoursQb, v:line4ValsB, col:CY, name:'line4-point'},{h:line4OutHours, v:line4OutVals, col:CY, name:'line4-outlier'},{h:hoursBlack, v:line4Black, col:K, name:'line4-mean-point'}]});
</script>
</body></html>
